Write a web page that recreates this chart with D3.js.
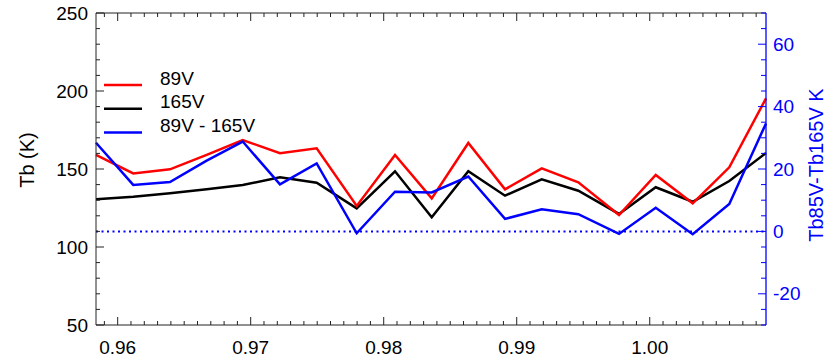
<!DOCTYPE html>
<html>
<head>
<meta charset="utf-8">
<script src="https://cdn.jsdelivr.net/npm/d3@7"></script>
<style>
  html, body { margin: 0; padding: 0; background: #fff; }
  svg { display: block; font-family: "Liberation Sans", Arial, Helvetica, sans-serif; }
</style>
</head>
<body>
<svg id="chart" width="833" height="359"></svg>
<script>
// Sample positions along the x axis
const xValues = [0.95837, 0.96117, 0.96393, 0.96669, 0.96940, 0.97220, 0.97496, 0.97797,
                 0.98085, 0.98361, 0.98636, 0.98912, 0.99188, 0.99463, 0.99769, 1.00045,
                 1.00323, 1.00598, 1.00874];
// Brightness temperatures (K), left axis
const tb89V  = [159.0, 147.2, 149.8, 159.0, 168.6, 160.1, 163.3, 126.3, 159.0, 131.2,
                166.7, 137.0, 150.4, 141.5, 120.5, 146.2, 128.0, 151.1, 195.3];
const tb165V = [130.6, 132.2, 134.4, 137.0, 139.7, 144.7, 141.2, 124.8, 148.5, 119.0,
                148.6, 132.9, 143.4, 136.1, 121.2, 138.3, 129.0, 142.3, 160.3];
// Difference 89V - 165V (K), right axis
const tbDiff = [28.4, 14.9, 15.8, 22.7, 28.8, 15.1, 21.8, -0.6, 12.7, 12.5,
                17.6, 4.0, 7.1, 5.5, -0.8, 7.6, -0.9, 8.8, 34.6];

const xTicks = [0.96, 0.97, 0.98, 0.99, 1.00];
const leftTicks = [50, 100, 150, 200, 250];
const rightTicks = [-20, 0, 20, 40, 60];
const legendLabels = ["89V", "165V", "89V - 165V"];

const plot = { left: 96, right: 766, top: 13, bottom: 325 };
const BLUE = "#0000ff", RED = "#ff0000", INK = "#000";
const AX = "#222";

const svg = d3.select("#chart");

const x = d3.scaleLinear().domain([xValues[0], xValues[xValues.length - 1]])
  .range([plot.left, plot.right]);
const yL = d3.scaleLinear().domain([50, 250]).range([plot.bottom, plot.top]);
const yR = d3.scaleLinear().domain([-30, 70]).range([plot.bottom, plot.top]);

const fs = 19;

// zero line of the difference axis
svg.append("line")
  .attr("x1", plot.left).attr("x2", plot.right)
  .attr("y1", yR(0)).attr("y2", yR(0))
  .attr("stroke", BLUE).attr("stroke-width", 2)
  .attr("stroke-dasharray", "2,3.5");

// data lines
const lineL = d3.line().x((d, i) => x(xValues[i])).y(d => yL(d));
const lineR = d3.line().x((d, i) => x(xValues[i])).y(d => yR(d));
svg.append("path").attr("d", lineL(tb165V)).attr("fill", "none")
  .attr("stroke", INK).attr("stroke-width", 2.5);
svg.append("path").attr("d", lineL(tb89V)).attr("fill", "none")
  .attr("stroke", RED).attr("stroke-width", 2.5);
svg.append("path").attr("d", lineR(tbDiff)).attr("fill", "none")
  .attr("stroke", BLUE).attr("stroke-width", 2.5);

// x axis minor ticks every 0.001, longer at labelled values
const minorX = d3.range(Math.ceil(xValues[0] * 1000), Math.floor(xValues[xValues.length - 1] * 1000) + 1)
  .map(v => v / 1000);

function xAxisTicks(g, y0, dir) {
  g.selectAll(".mx").data(minorX).join("line")
    .attr("x1", d => x(d)).attr("x2", d => x(d))
    .attr("y1", y0).attr("y2", d => {
      const major = xTicks.some(t => Math.abs(t - d) < 1e-9);
      return y0 + dir * (major ? 8 : 4);
    })
    .attr("stroke", AX).attr("stroke-width", 1);
}

const gB = svg.append("g");
xAxisTicks(gB, plot.bottom, -1);
gB.selectAll("text").data(xTicks).join("text")
  .attr("x", d => x(d)).attr("y", 347).attr("dy", "0.35em")
  .attr("text-anchor", "middle").attr("font-size", fs).attr("fill", INK)
  .text(d => d3.format(".2f")(d));

const gT = svg.append("g");
xAxisTicks(gT, plot.top, 1);

// frame
svg.append("line").attr("x1", plot.left).attr("x2", plot.right)
  .attr("y1", plot.bottom).attr("y2", plot.bottom).attr("stroke", AX);
svg.append("line").attr("x1", plot.left).attr("x2", plot.right)
  .attr("y1", plot.top).attr("y2", plot.top).attr("stroke", AX);

// left axis
const minorL = d3.range(50, 251, 10);
const gL = svg.append("g");
gL.selectAll("line").data(minorL).join("line")
  .attr("x1", plot.left).attr("x2", d => plot.left + (d % 50 === 0 ? 8 : 4))
  .attr("y1", d => yL(d)).attr("y2", d => yL(d))
  .attr("stroke", AX);
gL.append("line").attr("x1", plot.left).attr("x2", plot.left)
  .attr("y1", plot.top).attr("y2", plot.bottom).attr("stroke", AX);
gL.selectAll("text").data(leftTicks).join("text")
  .attr("x", 88).attr("y", d => yL(d)).attr("dy", "0.35em")
  .attr("text-anchor", "end").attr("font-size", fs).attr("fill", INK)
  .text(d => d);
svg.append("text")
  .attr("transform", "translate(34,160) rotate(-90)")
  .attr("text-anchor", "middle").attr("font-size", 20).attr("fill", INK)
  .text("Tb (K)");

// right axis
const minorR = d3.range(-30, 71, 5);
const gR = svg.append("g");
gR.selectAll("line").data(minorR).join("line")
  .attr("x1", plot.right).attr("x2", d => plot.right - (d % 20 === 0 ? 8 : 5))
  .attr("y1", d => yR(d)).attr("y2", d => yR(d))
  .attr("stroke", BLUE);
gR.append("line").attr("x1", plot.right).attr("x2", plot.right)
  .attr("y1", plot.top).attr("y2", plot.bottom).attr("stroke", BLUE).attr("stroke-width", 1.3);
gR.selectAll("text").data(rightTicks).join("text")
  .attr("x", 773).attr("y", d => yR(d)).attr("dy", "0.35em")
  .attr("text-anchor", "start").attr("font-size", fs).attr("fill", BLUE)
  .text(d => d);
svg.append("text")
  .attr("transform", "translate(823,165) rotate(-90)")
  .attr("text-anchor", "middle").attr("font-size", 20).attr("fill", BLUE)
  .text("Tb85V-Tb165V K");

// legend
const legendColors = [RED, INK, BLUE];
const gLeg = svg.append("g");
legendLabels.forEach((lab, i) => {
  const ly = 85 + i * 23.8;
  gLeg.append("line").attr("x1", 104).attr("x2", 142)
    .attr("y1", ly).attr("y2", ly)
    .attr("stroke", legendColors[i]).attr("stroke-width", 2.5);
  gLeg.append("text").attr("x", 160).attr("y", ly - 7).attr("dy", "0.35em")
    .attr("font-size", fs).attr("fill", INK).text(lab);
});
</script>
</body>
</html>
